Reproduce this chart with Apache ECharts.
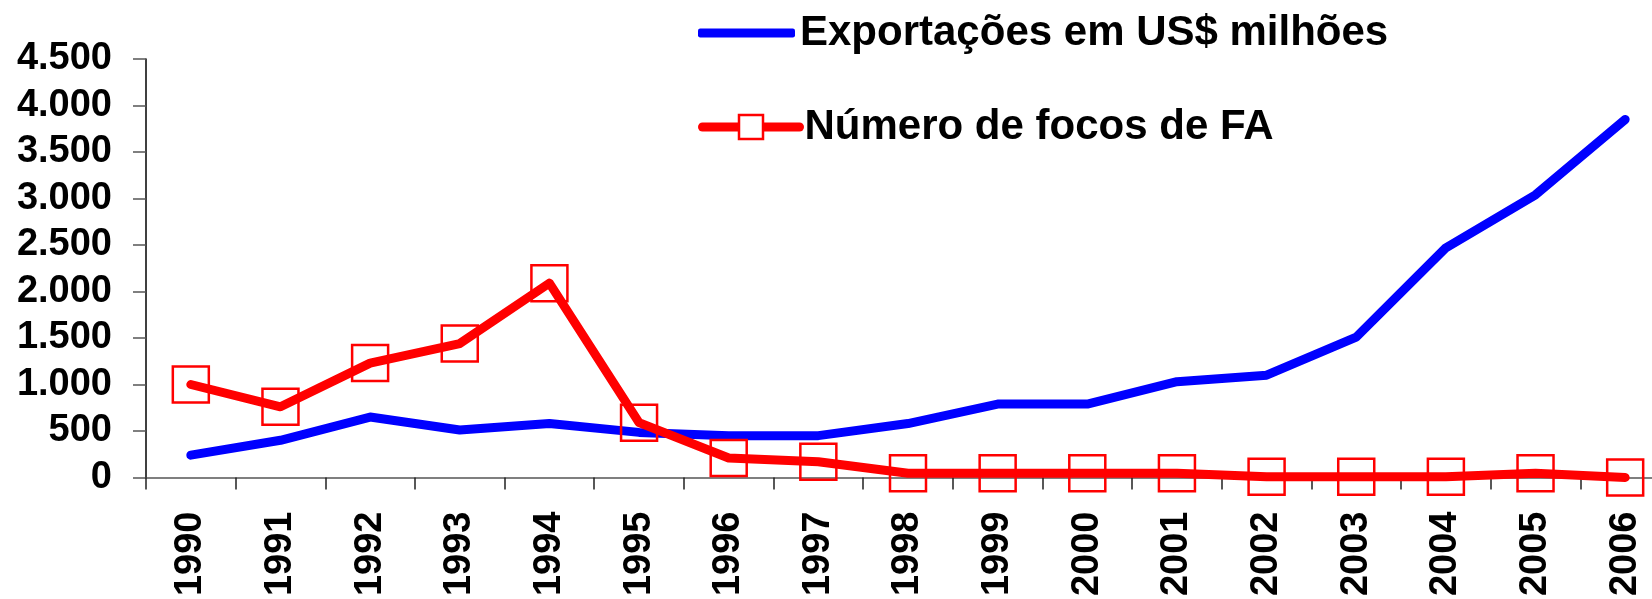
<!DOCTYPE html>
<html lang="pt">
<head>
	<meta charset="UTF-8">
	<title>Exportações x focos de FA</title>
	<script src="https://cdn.jsdelivr.net/npm/echarts@6/dist/echarts.min.js"></script>
	<style>
		html, body { margin: 0; padding: 0; background: #fff; }
		#container { width: 1652px; height: 599px; }
	</style>
</head>
<body>
	<div id="container"></div>
	<script>
		var years = ['1990','1991','1992','1993','1994','1995','1996','1997','1998',
			'1999','2000','2001','2002','2003','2004','2005','2006'];
		var exportacoes = [240, 400, 650, 510, 580, 485, 450, 450, 580, 790, 790, 1030, 1100, 1510, 2470, 3040, 3850];
		var focos = [1000, 760, 1230, 1440, 2090, 590, 210, 170, 45, 45, 45, 45, 8, 8, 8, 45, 0];
		var nomeExp = 'Exportações em US$ milhões';
		var nomeFocos = 'Número de focos de FA';

		var font = '"Liberation Sans", Arial, sans-serif';

		function milhar(v) {
			return String(v).replace(/\B(?=(\d{3})+(?!\d))/g, '.');
		}

		var myChart = echarts.init(document.getElementById('container'), null, { renderer: 'canvas' });
		var option = {
			animation: false,
			backgroundColor: '#fff',
			legend: [{
				data: [{ name: nomeExp, icon: 'roundRect' }],
				left: 698, top: 12, padding: 0,
				itemWidth: 97, itemHeight: 9,
				textStyle: { fontFamily: font, fontWeight: 'bold', fontSize: 42, lineHeight: 42, color: '#000' }
			}, {
				data: [nomeFocos],
				left: 698, top: 106, padding: 0,
				itemWidth: 97, itemHeight: 30,
				lineStyle: { width: 9, cap: 'round', color: '#ff0000' },
				itemStyle: { color: '#fff', borderColor: '#ff0000', borderWidth: 2.5 },
				textStyle: { fontFamily: font, fontWeight: 'bold', fontSize: 42, lineHeight: 42, color: '#000' }
			}],
			grid: {
				left: 146, top: 59, bottom: 121.5, width: 1524,
				containLabel: false,
				outerBoundsMode: 'none'
			},
			xAxis: {
				type: 'category',
				data: years,
				boundaryGap: true,
				axisLine: { lineStyle: { color: '#555', width: 1.5 } },
				axisTick: { show: true, length: 12, lineStyle: { color: '#222', width: 1.5 } },
				axisLabel: {
					rotate: 90, margin: 34, interval: 0,
					fontFamily: font, fontWeight: 'bold', fontSize: 38, color: '#000'
				},
				splitLine: { show: false }
			},
			yAxis: {
				type: 'value',
				min: 0, max: 4500, interval: 500,
				axisLine: { show: true, lineStyle: { color: '#000', width: 1.5 } },
				axisTick: { show: true, length: 13, lineStyle: { color: '#555', width: 1.5 } },
				axisLabel: {
					margin: 34,
					fontFamily: font, fontWeight: 'bold', fontSize: 38, color: '#000',
					formatter: milhar
				},
				splitLine: { show: false }
			},
			series: [{
				name: nomeExp,
				type: 'line',
				data: exportacoes,
				symbol: 'none',
				showSymbol: false,
				itemStyle: { color: '#0000ff' },
				lineStyle: { color: '#0000ff', width: 9, cap: 'round', join: 'round' },
				z: 2
			}, {
				name: nomeFocos,
				type: 'line',
				data: focos,
				symbol: 'rect',
				symbolSize: 36,
				itemStyle: { color: 'rgba(0,0,0,0)', borderColor: '#ff0000', borderWidth: 2.5 },
				lineStyle: { color: '#ff0000', width: 9, cap: 'round', join: 'round' },
				z: 3
			}]
		};
		myChart.setOption(option);
	</script>
</body>
</html>
